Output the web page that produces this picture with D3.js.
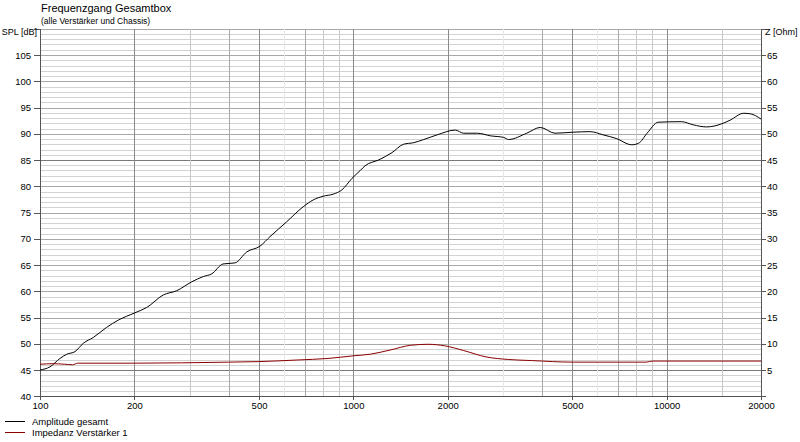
<!DOCTYPE html>
<html>
<head>
<meta charset="utf-8">
<script src="https://cdn.jsdelivr.net/npm/d3@7"></script>
<style>
	body { margin: 0; background: #fff; }
	#chart-area { width: 800px; height: 442px; }
	text { font-family: "Liberation Sans", Arial, sans-serif; }
</style>
</head>
<body>
<div id="chart-area"></div>
<script>
// SPL curve (Hz, dB)
const splFreq = [100, 107.6, 115.8, 121.7, 129.3, 137.5, 148, 163, 177.8, 201, 219, 247.5, 273, 305, 332, 353, 384, 419, 457, 504, 542, 612, 692, 745, 801, 863, 919, 990, 1052, 1090, 1203, 1328, 1446, 1559, 1678, 1853, 2115, 2250, 2490, 2740, 3020, 3130, 3575, 3950, 4400, 5030, 5700, 6260, 6900, 7740, 8140, 8660, 9400, 11150, 12150, 13400, 15000, 15950, 17600, 18500, 20000];
const splValues = [45.0, 45.6, 47.2, 48.0, 48.5, 50.1, 51.2, 53.1, 54.5, 55.9, 56.9, 59.3, 60.1, 61.8, 62.8, 63.3, 65.2, 65.4, 67.5, 68.6, 70.4, 73.2, 76.1, 77.4, 78.1, 78.5, 79.3, 81.5, 83.0, 83.9, 85.0, 86.4, 88.0, 88.3, 88.9, 89.8, 90.7, 90.1, 90.1, 89.6, 89.3, 88.9, 90.1, 91.2, 90.1, 90.3, 90.4, 89.8, 89.1, 87.9, 88.2, 90.1, 92.2, 92.3, 91.7, 91.3, 91.9, 92.6, 93.9, 93.8, 92.8];

// Impedance curve (Hz, Ohm)
const impFreq = [100, 110, 120, 127, 132, 200, 400, 500, 660, 830, 1000, 1130, 1310, 1520, 1730, 1960, 2250, 2650, 3130, 3700, 5030, 8600, 9000, 20000];
const impValues = [6.1, 6.2, 6.1, 6.0, 6.3, 6.3, 6.5, 6.6, 6.9, 7.2, 7.7, 8.0, 8.8, 9.7, 9.9, 9.6, 8.7, 7.5, 7.0, 6.8, 6.5, 6.5, 6.7, 6.7];

// Tick labels
const freqTicks = [100, 200, 500, 1000, 2000, 5000, 10000, 20000];
const splTicks = [40, 45, 50, 55, 60, 65, 70, 75, 80, 85, 90, 95, 100, 105];
const ohmTicks = [5, 10, 15, 20, 25, 30, 35, 40, 45, 50, 55, 60, 65];

// Grid lines
const gridDark = [200, 500, 1000, 2000, 5000, 10000];
const gridMid = [400, 700, 4000, 7000];
const gridLight = [300, 800, 900, 8000, 9000, 15000];
const gridFaint = [600, 3000, 6000];

const titleText = 'Frequenzgang Gesamtbox';
const subtitleText = '(alle Verstärker und Chassis)';
const legendNames = ['Amplitude gesamt', 'Impedanz Verstärker 1'];
const lineColors = ['#000000', '#8c0000'];

const plotLeft = 40, plotRight = 761, plotTop = 28.75, plotBottom = 396.25;

const svg = d3.select('#chart-area')
	.append('svg')
	.attr('width', 800)
	.attr('height', 442);

// Scales
const x = d3.scaleLog()
	.domain([100, 20000])
	.range([plotLeft, plotRight]);

const y = d3.scaleLinear()
	.domain([40, 110])
	.range([plotBottom, plotTop]);

const z = d3.scaleLinear()
	.domain([0, 70])
	.range([plotBottom, plotTop]);

// Horizontal grid, every 1 dB
const grid = svg.append('g').attr('shape-rendering', 'crispEdges');
grid.selectAll('line.h')
	.data(d3.range(41, 111))
	.enter()
	.append('line')
	.attr('x1', plotLeft)
	.attr('x2', plotRight)
	.attr('y1', (d) => Math.round(y(d)) + 0.5)
	.attr('y2', (d) => Math.round(y(d)) + 0.5)
	.attr('stroke', (d) => {
		if (d === 45 || d === 85) return '#7a7a7a';
		if (d % 5 === 0) return '#a8a8a8';
		return '#d2d2d2';
	});

// Vertical grid
const vgrid = [
	{ list: gridFaint, color: '#e8e8e8' },
	{ list: gridLight, color: '#c8c8c8' },
	{ list: gridMid, color: '#a8a8a8' },
	{ list: gridDark, color: '#8a8a8a' }
];
vgrid.forEach((set) => {
	grid.selectAll(null)
		.data(set.list)
		.enter()
		.append('line')
		.attr('x1', (d) => Math.round(x(d)) + 0.5)
		.attr('x2', (d) => Math.round(x(d)) + 0.5)
		.attr('y1', plotTop)
		.attr('y2', plotBottom)
		.attr('stroke', set.color);
});

// Axes
const leftAxis = d3.axisLeft(y)
	.tickValues(splTicks)
	.tickSize(6)
	.tickPadding(3);
svg.append('g')
	.attr('transform', `translate(${plotLeft}, 0)`)
	.call(leftAxis);

const bottomAxis = d3.axisBottom(x)
	.tickValues(freqTicks)
	.tickFormat(d3.format('d'))
	.tickSize(4)
	.tickPadding(2);
svg.append('g')
	.attr('transform', `translate(0, ${plotBottom})`)
	.call(bottomAxis);

const rightAxis = d3.axisRight(z)
	.tickValues(ohmTicks)
	.tickSize(5)
	.tickPadding(1);
svg.append('g')
	.attr('transform', `translate(${plotRight}, 0)`)
	.call(rightAxis);

svg.selectAll('.domain').attr('stroke', '#555').attr('shape-rendering', 'crispEdges');
svg.selectAll('.tick line').attr('stroke', '#555').attr('shape-rendering', 'crispEdges');
svg.selectAll('.tick text')
	.attr('font-family', '"Liberation Sans", Arial, sans-serif')
	.attr('font-size', 9.5)
	.attr('fill', '#000');

// Curves
const spl = d3.line()
	.x((d, i) => x(splFreq[i]))
	.y((d) => y(d))
	.curve(d3.curveMonotoneX);
svg.append('path')
	.datum(splValues)
	.attr('d', spl)
	.attr('fill', 'none')
	.attr('stroke', lineColors[0])
	.attr('stroke-width', 1);

const imp = d3.line()
	.x((d, i) => x(impFreq[i]))
	.y((d) => z(d))
	.curve(d3.curveMonotoneX);
svg.append('path')
	.datum(impValues)
	.attr('d', imp)
	.attr('fill', 'none')
	.attr('stroke', lineColors[1])
	.attr('stroke-width', 1);

// Titles
svg.append('text')
	.attr('x', 41)
	.attr('y', 12)
	.attr('font-size', 11)
	.text(titleText);
svg.append('text')
	.attr('x', 41)
	.attr('y', 24)
	.attr('font-size', 8.5)
	.text(subtitleText);
svg.append('text')
	.attr('x', 37)
	.attr('y', 35)
	.attr('text-anchor', 'end')
	.attr('font-size', 9)
	.text('SPL [dB]');
svg.append('text')
	.attr('x', 765)
	.attr('y', 35)
	.attr('font-size', 9)
	.text('Z [Ohm]');

// Legend
const legend = svg.selectAll('g.legend')
	.data(legendNames)
	.enter()
	.append('g')
	.attr('transform', (d, i) => `translate(5, ${421.5 + i * 11})`);
legend.append('line')
	.attr('x1', 0)
	.attr('x2', 20)
	.attr('stroke', (d, i) => lineColors[i]);
legend.append('text')
	.attr('x', 27)
	.attr('y', 3.5)
	.attr('font-size', 9.5)
	.text((d) => d);
</script>
</body>
</html>
